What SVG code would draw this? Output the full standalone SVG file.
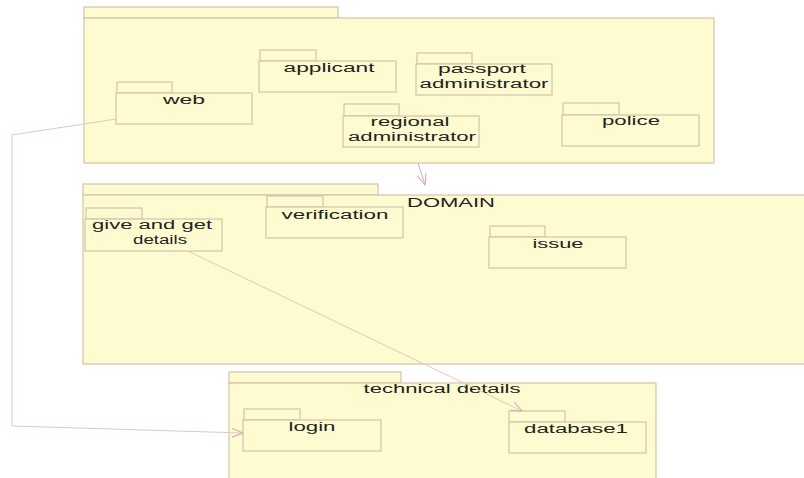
<svg xmlns="http://www.w3.org/2000/svg" width="804" height="478" viewBox="0 0 804 478">
  <defs>
    <style>
      .pkg { fill: #fffbd0; stroke: #d3c3a9; stroke-width: 1.2; }
      .lbl { font-family: "Liberation Sans", Arial, sans-serif; font-size: 12.5px; fill: #222; text-anchor: middle; }
      .lbl-l { font-family: "Liberation Sans", Arial, sans-serif; font-size: 13px; fill: #222; }
      .dep { fill: none; stroke: #dbc8c6; stroke-width: 1; }
      .dep-pink { fill: none; stroke: #d9a8b4; stroke-width: 1; }
    </style>
    <marker id="open" viewBox="0 0 12 10" refX="11" refY="5" markerWidth="12" markerHeight="10" markerUnits="userSpaceOnUse" orient="auto">
      <path d="M0,0.5 L11,5 L0,9.5" fill="none" stroke="#d6a8b0" stroke-width="1"/>
    </marker>
  </defs>

  <rect width="804" height="478" fill="#ffffff"/>

  <!-- outer containers -->
  <g id="ui-layer">
    <rect class="pkg" x="84" y="7" width="254" height="11"/>
    <rect class="pkg" x="84" y="18" width="630" height="145"/>
  </g>
  <g id="domain">
    <rect class="pkg" x="83" y="184" width="295" height="11"/>
    <rect class="pkg" x="83" y="195" width="725" height="169"/>
    <text class="lbl-l" x="407" y="207" textLength="88" lengthAdjust="spacingAndGlyphs">DOMAIN</text>
  </g>
  <g id="technical-details">
    <rect class="pkg" x="229" y="372" width="172" height="11"/>
    <rect class="pkg" x="229" y="383" width="427" height="100"/>
    <text class="lbl" x="442" y="393" textLength="157" lengthAdjust="spacingAndGlyphs">technical details</text>
  </g>

  <!-- packages in the top layer -->
  <g id="web">
    <rect class="pkg" x="117" y="82" width="55" height="11"/>
    <rect class="pkg" x="116" y="93" width="136" height="31"/>
    <text class="lbl" x="184" y="104" textLength="42" lengthAdjust="spacingAndGlyphs">web</text>
  </g>
  <g id="applicant">
    <rect class="pkg" x="260" y="50" width="56" height="11"/>
    <rect class="pkg" x="259" y="61" width="137" height="31"/>
    <text class="lbl" x="329" y="72" textLength="91" lengthAdjust="spacingAndGlyphs">applicant</text>
  </g>
  <g id="passport-administrator">
    <rect class="pkg" x="417" y="53" width="55" height="11"/>
    <rect class="pkg" x="416" y="64" width="136" height="31"/>
    <text class="lbl" x="482" y="73" textLength="88" lengthAdjust="spacingAndGlyphs">passport</text>
    <text class="lbl" x="484" y="88" textLength="129" lengthAdjust="spacingAndGlyphs">administrator</text>
  </g>
  <g id="regional-administrator">
    <rect class="pkg" x="344" y="104" width="55" height="12"/>
    <rect class="pkg" x="343" y="116" width="136" height="31"/>
    <text class="lbl" x="410" y="126" textLength="79" lengthAdjust="spacingAndGlyphs">regional</text>
    <text class="lbl" x="412" y="141" textLength="128" lengthAdjust="spacingAndGlyphs">administrator</text>
  </g>
  <g id="police">
    <rect class="pkg" x="563" y="103" width="56" height="12"/>
    <rect class="pkg" x="562" y="115" width="137" height="31"/>
    <text class="lbl" x="631" y="125" textLength="58" lengthAdjust="spacingAndGlyphs">police</text>
  </g>

  <!-- packages in the domain layer -->
  <g id="give-and-get-details">
    <rect class="pkg" x="86" y="208" width="56" height="11"/>
    <rect class="pkg" x="85" y="219" width="137" height="32"/>
    <text class="lbl" x="152" y="229" textLength="120" lengthAdjust="spacingAndGlyphs">give and get</text>
    <text class="lbl" x="160" y="244" textLength="54" lengthAdjust="spacingAndGlyphs">details</text>
  </g>
  <g id="verification">
    <rect class="pkg" x="267" y="196" width="56" height="11"/>
    <rect class="pkg" x="266" y="207" width="137" height="31"/>
    <text class="lbl" x="335" y="219" textLength="107" lengthAdjust="spacingAndGlyphs">verification</text>
  </g>
  <g id="issue">
    <rect class="pkg" x="490" y="226" width="55" height="11"/>
    <rect class="pkg" x="489" y="237" width="137" height="31"/>
    <text class="lbl" x="558" y="248" textLength="51" lengthAdjust="spacingAndGlyphs">issue</text>
  </g>

  <!-- packages in the technical layer -->
  <g id="login">
    <rect class="pkg" x="244" y="409" width="56" height="11"/>
    <rect class="pkg" x="243" y="420" width="138" height="31"/>
    <text class="lbl" x="312" y="431" textLength="47" lengthAdjust="spacingAndGlyphs">login</text>
  </g>
  <g id="database1">
    <rect class="pkg" x="509" y="411" width="56" height="11"/>
    <rect class="pkg" x="509" y="422" width="137" height="31"/>
    <text class="lbl" x="576" y="433" textLength="104" lengthAdjust="spacingAndGlyphs">database1</text>
  </g>

  <!-- dependencies -->
  <g id="connectors">
    <path class="dep-pink" d="M418,163 L425,185" marker-end="url(#open)"/>
    <path class="dep" d="M116,119 L12,135 L12,426 L243,433" marker-end="url(#open)"/>
    <path class="dep" d="M188,251 L522,411" marker-end="url(#open)"/>
  </g>
</svg>
